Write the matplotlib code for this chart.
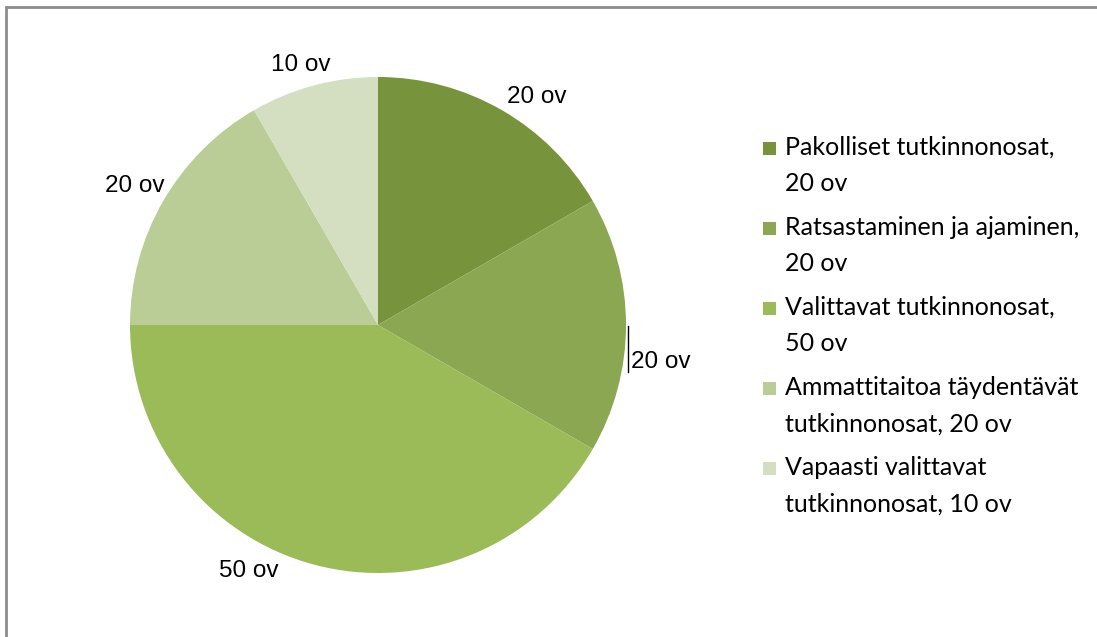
import matplotlib.pyplot as plt
from matplotlib.patches import Rectangle

# data
labels = ["Pakolliset tutkinnonosat,\n20 ov",
          "Ratsastaminen ja ajaminen,\n20 ov",
          "Valittavat tutkinnonosat,\n50 ov",
          "Ammattitaitoa täydentävät\ntutkinnonosat, 20 ov",
          "Vapaasti valittavat\ntutkinnonosat, 10 ov"]
values = [20, 20, 50, 20, 10]
value_labels = ["20 ov", "20 ov", "50 ov", "20 ov", "10 ov"]
colors = ["#77933C", "#8BA752", "#9BBB59", "#BACD96", "#D3DFC0"]

# label positions (in pie radius units)
label_pos = [(0.64, 0.92), (1.14, -0.15), (-0.52, -0.99), (-0.98, 0.56), (-0.31, 1.05)]

W, H = 1097, 637
fig = plt.figure(figsize=(W / 100, H / 100), dpi=100)

# chart frame (runs off right and bottom edge)
fig.patches.append(Rectangle((6 / W, -0.1), 1.2, (H - 7) / H + 0.1,
                             transform=fig.transFigure, fill=False,
                             edgecolor="#8C8C8C", linewidth=2))

ax = fig.add_axes([130 / W, 64 / H, 496 / W, 496 / H])
wedges, _ = ax.pie(values, colors=colors, startangle=90, counterclock=False,
                   radius=1, wedgeprops=dict(linewidth=0))
ax.set_xlim(-1, 1)
ax.set_ylim(-1, 1)
ax.set_aspect("equal")

for txt, (x, y) in zip(value_labels, label_pos):
    ax.text(x, y, txt, ha="center", va="center", fontsize=17.5,
            family="Liberation Sans", color="black", clip_on=False)

# leader line for second label
ax.plot([1.008, 1.008], [-0.005, -0.19], color="black", lw=1, clip_on=False)

# legend: square aligned with the first line of each entry
for i, (lab, c) in enumerate(zip(labels, colors)):
    yc = 148 + 80 * i
    fig.patches.append(Rectangle((763 / W, 1 - (yc + 7) / H), 13 / W, 13 / H,
                                 transform=fig.transFigure, facecolor=c,
                                 edgecolor="none"))
    fig.text(785 / W, 1 - (yc - 12) / H, lab, ha="left", va="top",
             family="Lato", fontsize=18, linespacing=1.7)

fig.savefig("out.png", dpi=100)
